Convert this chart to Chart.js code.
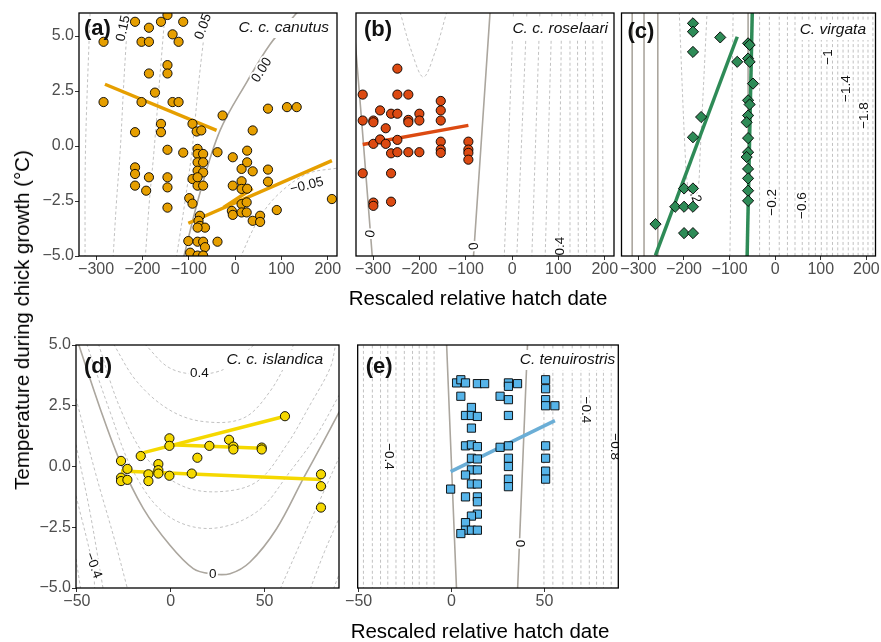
<!DOCTYPE html>
<html>
<head>
<meta charset="utf-8">
<script src="https://cdn.jsdelivr.net/npm/chart.js@4.4.1/dist/chart.umd.min.js"></script>
<style>
  body { margin:0; width:881px; height:642px; overflow:hidden; background:#fff; position:relative;
         font-family:"Liberation Sans", Arial, sans-serif; }
  canvas { position:absolute; }
  .ttl { position:absolute; font-size:20.5px; color:#000; white-space:nowrap; transform:translate(-50%,-50%); }
</style>
</head>
<body>
<canvas id="pa" width="345" height="290" style="left:0;top:0"></canvas>
<canvas id="pb" width="276" height="290" style="left:346px;top:0"></canvas>
<canvas id="pc" width="270" height="290" style="left:612px;top:0"></canvas>
<canvas id="pd" width="347" height="300" style="left:0;top:320px"></canvas>
<canvas id="pe" width="282" height="300" style="left:345px;top:320px"></canvas>
<div class="ttl" style="left:478px;top:298px">Rescaled relative hatch date</div>
<div class="ttl" style="left:480px;top:631px">Rescaled relative hatch date</div>
<div class="ttl" style="left:22px;top:320px;transform:translate(-50%,-50%) rotate(-90deg)">Temperature during chick growth (°C)</div>
<script>
// ---- data ----
// (a) C. c. canutus
const aHatch = [-284,-284,-216,-216,-216,-216,-216,-202,-202,-192,-186,-186,-186,-186,-173,-160,-160,-160,-146,-146,-146,-146,-146,-146,-146,-135,-135,-122,-122,-112,-112,
  -99,-92,-92,-83,-73,-81,-81,-69,-81,-69,-81,-69,-92,-81,-69,-81,-76,-79,-76,-65,-81,-101,-81,-69,-65,-97,-81,-69,-38,-38,-27,
  -5,-5,-7,-5,14,14,14,14,14,26,26,26,25,25,38,38,38,54,54,71,71,71,90,112,133,209];
const aTemp = [4.74,2.0,5.65,0.63,-0.97,-1.27,-1.8,4.74,2.0,-2.03,5.38,4.74,3.3,-1.42,2.43,5.65,1.01,0.63,5.96,3.68,3.3,-0.17,-1.42,-1.88,-2.8,2.0,5.08,2.0,4.74,5.65,-0.3,
  -2.37,-2.62,1.01,0.66,0.71,-0.13,-0.36,-0.36,-0.74,-0.74,-1.12,-1.2,-1.5,-1.8,-1.8,-1.42,-3.17,-3.4,-3.63,-3.71,-3.71,-4.32,-4.35,-4.35,-4.6,-4.85,-4.98,-4.98,-0.28,-4.35,1.39,
  -0.51,-1.8,-2.95,-3.13,-1.04,-1.6,-1.95,-2.64,-3.02,-0.21,-0.74,-1.94,-2.56,-3.02,0.71,-1.15,-3.4,-3.17,-3.45,1.7,-1.07,-1.62,-2.91,1.77,1.77,-2.41];
const aFits = [[[-281,2.81],[-40,0.71]], [[-101,-3.51],[209,-0.66]], [[-25,-2.79],[38,-1.93]]];
const aSolid = [[[-111.6,-5.1],[-75.6,-2.11],[-32.4,0.71],[25.2,2.91],[75.6,4.63],[126,5.88],[135,6.1]]];
const aDashed = [
  [[-127,-5.1],[-108,-2.5],[-93,-0.2],[-78,3.0],[-61,6.1]],
  [[-194,-5.1],[-185,-2.5],[-175,-0.2],[-163,3.0],[-151,6.1]],
  [[-263.5,-5.1],[-256,-2.5],[-248,-0.2],[-240,3.0],[-231,6.1]],
  [[-324,-5.1],[-323,-0.2],[-313,6.1]],
  [[10.8,-5.1],[46.8,-3.48],[90,-2.26],[155,-1.27],[221,-1.0]]
];

// (b) C. c. roselaari
const bHatch = [-322.5,-322.5,-322.5,-299.5,-299.5,-299.5,-299.5,-299.5,-285,-285,-272.8,-272.8,-261.3,-261.3,-261.3,-261.3,-247.7,-247.7,-247.7,-247.7,-247.7,-224,-224,-224,-224,-200.2,-200.2,-200.2,-154,-154,-154,-154,-154,-154,-94.4,-94.4,-94.4,-94.4];
const bTemp = [2.34,1.16,-1.24,1.16,1.08,0.1,-2.57,-2.72,1.62,0.3,0.81,0.1,1.47,-0.33,-1.24,-2.53,3.52,2.34,1.47,0.28,-0.28,2.34,1.19,1.08,-0.28,1.47,1.16,-0.28,2.05,1.62,1.16,0.2,-0.16,-0.31,0.2,-0.16,-0.31,-0.62];
const bFits = [[[-322.5,0.07],[-94.4,0.94]]];
const bSolid = [[[-344,6.1],[-324.6,1.09],[-301.6,-5.1]], [[-47.5,6.1],[-83.6,-5.1]]];
const bBowl = [[-242,6.1],[-216.6,4.28],[-191.6,3.14],[-166.3,4.28],[-141,6.1]];
const bDashBottom = [-17,10,42.5,71.3,100,125,143,161,179,197];
const bDashTop = [3,32,60,86,107,125,141,158,174,194];

// (c) C. virgata
const cHatch = [-180.3,-180.3,-180.3,-120.5,-83.2,-59.4,-56,-59.4,-56,-48.6,-59.4,-56,-59.4,-62.6,-59.4,-59.4,-62.6,-59.4,-59.4,-59.4,-59.4,-162.4,-180.3,-199.8,-180.3,-219.2,-199.8,-180.3,-262.4,-199.8,-180.3];
const cTemp = [5.58,5.2,4.28,4.94,3.83,4.67,4.6,3.98,3.83,2.84,2.08,1.89,1.39,1.08,0.36,-0.28,-0.5,-1.04,-1.47,-2.03,-2.49,1.32,0.4,-1.93,-1.93,-2.76,-2.76,-2.76,-3.55,-3.96,-3.96];
const cFits = [[[-262.6,-4.97],[-83.2,4.97]], [[-61.6,-5.1],[-50.2,6.1]]];
const cSolidX = [-313.6,-287.6,-257.4,-59.4];
const cLoop = [[-210.4,6.1],[-197,-0.5],[-191,-1.9],[-180,-2.5],[-169,-1.9],[-165,-0.5],[-149.3,6.1]];
const cDash2 = [[-92.2,6.1],[-99.4,-5.1]];
const cDashX = [-34.2,-12.7,8.9,26.9,43.5,59.4,73.8,88.2,101.2,113.5,125.7,137.2,148.8,160.3,171.1,181.9,192.7,203.5,214.3];

// (d) C. c. islandica
const dHatch = [-26.5,-26.5,-26.5,-23.1,-23.1,-16,-11.9,-11.9,-6.6,-6.6,-6.6,-0.7,-0.7,-0.7,11.2,14.2,20.6,31.1,33.4,33.4,48.5,48.5,60.9,80.1,80.1,80.1];
const dTemp = [0.23,-0.46,-0.6,-0.1,-0.55,0.43,-0.32,-0.6,0.1,-0.15,-0.29,1.16,0.85,-0.38,-0.29,0.36,0.85,1.1,0.82,0.7,0.78,0.7,2.07,-0.32,-0.81,-1.69];
const dFits = [[[-16,0.54],[60.9,2.07]], [[-0.7,0.89],[48.5,0.75]], [[-26.5,-0.19],[80.1,-0.53]]];
const dSolid = [[[-49.2,5.05],[-37.7,2.4],[-27,0.2],[-14.6,-1.73],[-0.4,-3.24],[12,-4.2],[21,-4.41],[31.6,-4.41],[42.3,-3.93],[56.5,-2.55],[70.7,-0.49],[81.4,1.02],[89.9,2.26]]];
const dDashed = [
  [[-14,5.05],[-0.7,4.06],[15,3.8],[30,4.06],[45,5.05]],
  [[-30.6,5.05],[-18.1,3.5],[-0.7,2.33],[17.4,1.85],[38.7,1.99],[52.9,3.09],[63.6,4.6],[65.5,5.05]],
  [[-38.6,5.05],[-27,2.4],[-12.8,0.34],[5,-0.76],[24.5,-1.04],[45.8,-0.63],[61.8,0.89],[74.3,2.54],[85,4.06],[88,5.05]],
  [[-44.8,5.05],[-32.4,2.26],[-19.9,-0.21],[-2.1,-2.0],[21,-2.55],[45.8,-1.87],[63.6,-0.21],[77.8,1.3],[89.9,2.95]],
  [[-50.5,2.8],[-40,-0.3],[-30,-3.0],[-23,-5.05]],
  [[-50.5,0.9],[-43,-1.9],[-36,-5.05]],
  [[-50.5,-1.2],[-41.5,-4.1],[-40.5,-5.05]],
  [[-50.5,-3.8],[-48,-5.05]],
  [[58.3,-5.05],[70,-3.0],[80,-1.3],[89.9,0.4]],
  [[74.3,-5.05],[82,-3.5],[89.9,-2.1]],
  [[86.7,-5.05],[89.9,-4.4]]
];

// (e) C. tenuirostris
const eHatch = [2.7,5,7.5,13.9,17.8,30.6,30.6,35.5,50.6,50.6,5,26.1,30.6,50.6,50.6,55.6,10.7,7.5,10.7,13.9,10.7,30.6,7.5,10.7,13.9,26.1,30.6,50.6,10.7,13.9,30.6,30.6,50.6,50.6,50.6,10.7,13.9,7.5,30.6,30.6,10.7,13.9,-0.5,7.5,13.9,13.9,13.9,10.7,7.5,7.5,10.7,13.9,5];
const eTemp = [3.44,3.57,3.44,3.41,3.41,3.44,3.3,3.41,3.57,3.2,2.89,2.89,2.75,2.75,2.5,2.5,2.43,2.1,2.1,2.06,1.58,2.1,0.85,0.89,0.82,0.79,0.85,0.85,0.34,0.31,0.34,0,0.34,-0.19,-0.52,-0.14,-0.14,-0.35,-0.52,-0.83,-0.72,-0.72,-0.93,-1.25,-1.25,-1.45,-1.96,-2.04,-2.31,-2.62,-2.62,-2.62,-2.76];
const eFits = [[[-0.5,-0.21],[55.6,1.89]]];
const eSolid = [[[-2.7,5.1],[2.7,-5.1]], [[40.9,5.1],[35.5,-5.1]]];
const eDashX = [-47.4,-42.6,-38.2,-34.3,-29.9,-25.4,-21,-17.4,-13.3,-9.4,49.7,54.5,59.9,64.9,69.6,74.1,78,81.7,85.9];

// ---- helpers ----
Chart.defaults.font.family = '"Liberation Sans", Arial, sans-serif';

const MINUS = '\u2212';
function zip(xs, ys) { return xs.map(function (x, i) { return {x: x, y: ys[i]}; }); }
function pairs(arr) { return arr.map(function (p) { return {x: p[0], y: p[1]}; }); }
function vlines(xs) { return xs.map(function (x) { return [[x, -6], [x, 7]]; }); }
function slant(bot, top) { return bot.map(function (b, i) { return [[b, -5.1], [top[i], 6.1]]; }); }
function fmtX(v) { return (v < 0 ? MINUS : '') + Math.abs(v); }
function fmtY(v) { return (v < 0 ? MINUS : '') + Math.abs(v).toFixed(1); }

function drawText(ctx, x, y, text, font, rot, align, halo) {
  ctx.save();
  ctx.translate(x, y);
  ctx.rotate((rot || 0) * Math.PI / 180);
  ctx.font = font;
  ctx.textAlign = align || 'center';
  ctx.textBaseline = 'middle';
  if (halo) {
    ctx.strokeStyle = '#fff'; ctx.lineWidth = 4; ctx.lineJoin = 'round';
    ctx.strokeText(text, 0, 0);
  }
  ctx.fillStyle = '#111';
  ctx.fillText(text, 0, 0);
  ctx.restore();
}

// frame, panel tag, species name, contour labels
const notes = {
  id: 'notes',
  afterDatasetDraw: function (chart, args, o) {
    if (!chart.data.datasets[args.index].firstContour) return;
    const ctx = chart.ctx, a = chart.chartArea;
    ctx.save();
    ctx.beginPath(); ctx.rect(a.left, a.top, a.right - a.left, a.bottom - a.top); ctx.clip();
    o.labels.forEach(function (l) {
      drawText(ctx, chart.scales.x.getPixelForValue(l[0]), chart.scales.y.getPixelForValue(l[1]),
        l[2], '13.5px "Liberation Sans", Arial, sans-serif', l[3], 'center', true);
    });
    ctx.restore();
  },
  afterDraw: function (chart, args, o) {
    const ctx = chart.ctx, a = chart.chartArea;
    // species with white box
    ctx.save();
    ctx.font = 'italic 15.5px "Liberation Sans", Arial, sans-serif';
    const w = ctx.measureText(o.species).width;
    ctx.fillStyle = '#fff';
    ctx.fillRect(a.right - o.sp[0] - w - 3, a.top + o.sp[1] - 10, w + 6, 20);
    ctx.restore();
    drawText(ctx, a.right - o.sp[0], a.top + o.sp[1], o.species, 'italic 15.5px "Liberation Sans", Arial, sans-serif', 0, 'right', false);
    drawText(ctx, a.left + o.tag[0], a.top + o.tag[1], o.tagText, 'bold 22px "Liberation Sans", Arial, sans-serif', 0, 'left', false);
    ctx.save();
    ctx.strokeStyle = '#000'; ctx.lineWidth = 1.3;
    ctx.strokeRect(a.left, a.top, a.right - a.left, a.bottom - a.top);
    ctx.restore();
  }
};

function makePanel(id, p) {
  const ds = [];
  ds.push({data: zip(p.xs, p.ys), showLine: false, pointStyle: p.shape, pointRadius: p.r,
    backgroundColor: p.fill, borderColor: '#000', borderWidth: 0.9, order: 0, clip: 0});
  p.fits.forEach(function (f) {
    ds.push({data: pairs(f), showLine: true, borderColor: p.line, borderWidth: 3.5,
      pointRadius: 0, order: 1, clip: 0});
  });
  const first = ds.length;
  p.solid.forEach(function (c) {
    ds.push({data: pairs(c), showLine: true, borderColor: '#aba69e', borderWidth: 1.6,
      pointRadius: 0, tension: 0.35, order: 2, clip: 0});
  });
  p.dashed.forEach(function (c) {
    ds.push({data: pairs(c), showLine: true, borderColor: '#a6a6a6', borderWidth: 0.7,
      borderDash: [3, 2.5], pointRadius: 0, tension: 0.35, order: 2, clip: 0});
  });
  ds[first].firstContour = true;

  const tickGrid = {drawOnChartArea: false, drawTicks: true, tickLength: 4, color: '#333', lineWidth: 1};
  new Chart(document.getElementById(id), {
    type: 'scatter',
    data: {datasets: ds},
    options: {
      responsive: false, animation: false, events: [],
      layout: {padding: p.pad},
      plugins: {
        legend: {display: false}, tooltip: {enabled: false},
        notes: {tagText: p.tagText, tag: p.tag, species: p.species, sp: p.sp, labels: p.labels}
      },
      scales: {
        x: {type: 'linear', min: p.xr[0], max: p.xr[1],
          afterFit: function (s) { s.height = p.xh; },
          ticks: {stepSize: p.xstep, includeBounds: false, autoSkip: false, maxRotation: 0,
            color: '#4d4d4d', font: {size: 16}, padding: 0, callback: fmtX},
          grid: tickGrid, border: {display: false}},
        y: {type: 'linear', display: p.showY, min: p.yr[0], max: p.yr[1],
          afterFit: function (s) { s.width = p.yw; },
          ticks: {stepSize: 2.5, includeBounds: false, color: '#4d4d4d', font: {size: 16}, padding: 1, callback: fmtY},
          grid: tickGrid, border: {display: false}}
      }
    },
    plugins: [notes]
  });
}

const TOPX = [-337, 220], TOPY = [-5, 6.05], BOTX = [-50.5, 89.7], BOTY = [-5, 5];

makePanel('pa', {xs: aHatch, ys: aTemp, shape: 'circle', r: 4.6, fill: '#E69F00', line: '#E69F00',
  fits: aFits, solid: aSolid, dashed: aDashed,
  xr: TOPX, yr: TOPY, xstep: 100, showY: true, yw: 79, xh: 34,
  pad: {top: 13, right: 8, left: 0, bottom: 0},
  tagText: '(a)', tag: [5, 16], species: 'C. c. canutus', sp: [8, 15],
  labels: [[-241, 5.35, '0.15', -78], [-68.5, 5.43, '0.05', -70], [57.6, 3.45, '0.00', -58], [155, -1.8, MINUS + '0.05', -14]]});

makePanel('pb', {xs: bHatch, ys: bTemp, shape: 'circle', r: 4.6, fill: '#DC4A12', line: '#DC4A12',
  fits: bFits, solid: bSolid, dashed: [bBowl].concat(slant(bDashBottom, bDashTop)),
  xr: TOPX, yr: TOPY, xstep: 100, showY: false, yw: 0, xh: 34,
  pad: {top: 13, right: 8, left: 10, bottom: 0},
  tagText: '(b)', tag: [8, 17], species: 'C. c. roselaari', sp: [6, 16],
  labels: [[-305, -4.0, '0', -80], [-82, -4.55, '0', -95], [103.7, -4.55, '0.4', -90]]});

makePanel('pc', {xs: cHatch, ys: cTemp, shape: 'rectRot', r: 5.6, fill: '#2E8B57', line: '#2E8B57',
  fits: cFits, solid: vlines(cSolidX), dashed: [cLoop, cDash2].concat(vlines(cDashX)),
  xr: TOPX, yr: TOPY, xstep: 100, showY: false, yw: 0, xh: 34,
  pad: {top: 13, right: 2.5, left: 9.5, bottom: 0},
  tagText: '(c)', tag: [6, 19], species: 'C. virgata', sp: [9.5, 17],
  labels: [[-178, -2.18, '0.2', 70], [-7, -2.56, MINUS + '0.2', -90], [59.4, -2.71, MINUS + '0.6', -90],
           [115.5, 4.05, MINUS + '1', -90], [156.6, 2.61, MINUS + '1.4', -90], [196.2, 1.39, MINUS + '1.8', -90]]});

makePanel('pd', {xs: dHatch, ys: dTemp, shape: 'circle', r: 4.6, fill: '#F5D800', line: '#F5D800',
  fits: dFits, solid: dSolid, dashed: dDashed,
  xr: BOTX, yr: BOTY, xstep: 50, showY: true, yw: 76, xh: 32,
  pad: {top: 25, right: 8, left: 0, bottom: 0},
  tagText: '(d)', tag: [8, 22], species: 'C. c. islandica', sp: [16, 15],
  labels: [[15.3, 3.85, '0.4', 0], [22.4, -4.45, '0', 0], [-41.3, -4.07, MINUS + '0.4', 70]]});

makePanel('pe', {xs: eHatch, ys: eTemp, shape: 'rect', r: 5.8, fill: '#56B4E9', line: '#6BAED6',
  fits: eFits, solid: eSolid, dashed: vlines(eDashX),
  xr: BOTX, yr: BOTY, xstep: 50, showY: false, yw: 0, xh: 32,
  pad: {top: 25, right: 8.7, left: 10.3, bottom: 0},
  tagText: '(e)', tag: [8, 22], species: 'C. tenuirostris', sp: [3, 15],
  labels: [[-33.8, 0.41, MINUS + '0.4', 90], [36.4, -3.17, '0', 90], [72, 2.33, MINUS + '0.4', 90], [88, 0.82, MINUS + '0.8', 90]]});
</script>
</body>
</html>
